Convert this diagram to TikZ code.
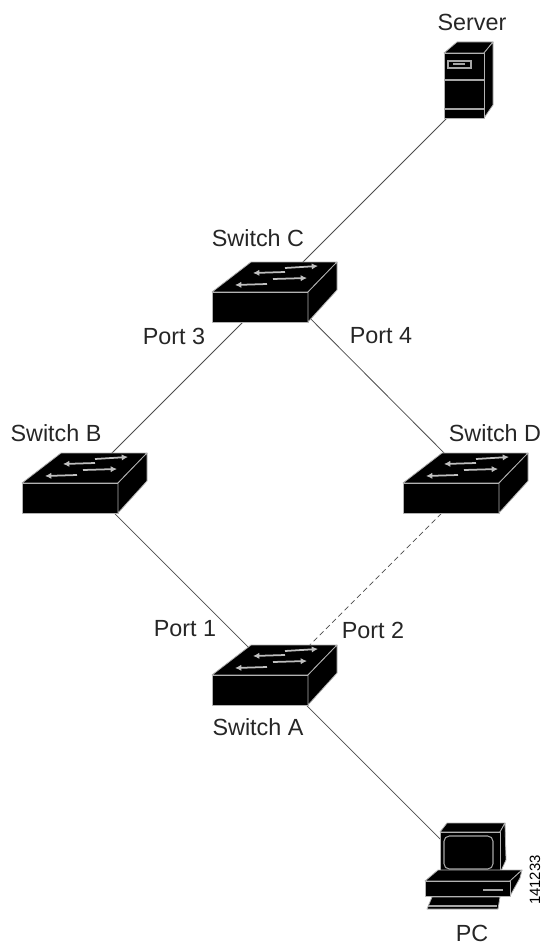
\documentclass[tikz,border=0pt]{standalone}
\usepackage{fontspec}
\setmainfont{Liberation Sans}
\usetikzlibrary{positioning,arrows.meta}

\tikzset{
  edge line/.style={draw=gray!60,line width=0.45pt,line join=round},
  detail line/.style={draw=gray!70,line width=0.6pt},
  arrow line/.style={draw=gray!50,line width=1pt,-{Latex[length=3.6pt,width=3.6pt]}},
  switch icon/.pic={
    \fill[black,edge line] (-63,0) -- (-24,-30) -- (62,-30) -- (33,0) -- cycle;
    \fill[black,edge line] (-63,0) rectangle (33,30);
    \fill[black,edge line] (33,0) -- (62,-30) -- (62,-2) -- (33,30) -- cycle;
    \draw[arrow line] (10,-24) -- (43,-26);
    \draw[arrow line] (10,-20) -- (-22,-19);
    \draw[arrow line] (-2,-13) -- (32,-14);
    \draw[arrow line] (-8,-8) -- (-40,-7);
  },
  server icon/.pic={
    \fill[black,edge line] (-26,-35) -- (-13,-46) -- (23,-46) -- (14,-35) -- cycle;
    \fill[black,edge line] (14,-35) -- (23,-46) -- (23,17) -- (14,30) -- cycle;
    \fill[black,edge line] (-26,-35) rectangle (14,30);
    \draw[detail line] (-26,-8) -- (14,-8) (-26,21) -- (14,21);
    \draw[detail line] (-22,-27) rectangle (1,-20);
    \draw[detail line] (-17,-24) -- (-5,-24);
  },
  pc icon/.pic={
    % monitor
    \fill[black,edge line] (-30,-38) -- (-23,-47) -- (35,-47) -- (30,-38) -- cycle;
    \fill[black,edge line] (30,-38) -- (35,-47) -- (36,-10) -- (30,3) -- cycle;
    \fill[black,edge line] (-30,-38) rectangle (30,3);
    \draw[detail line,rounded corners=3pt] (-26,-34) rectangle (23,-1);
    % base
    \fill[black,edge line] (-45,11) -- (-32,0) -- (52,0) -- (40,11) -- cycle;
    \fill[black,edge line] (40,11) -- (52,0) -- (50,8) -- (40,26) -- cycle;
    \fill[black,edge line] (-45,11) rectangle (40,26);
    \draw[gray!70,line width=1.2pt] (13,20) -- (33,20);
    % keyboard
    \fill[black,edge line] (-38,27) -- (-43,39) -- (28,39) -- (30,27) -- cycle;
    \draw[detail line] (-42,36) -- (27,36);
  }
}

\begin{document}
\begin{tikzpicture}[x=0.02cm,y=-0.02cm,on grid,node distance=1cm,
                    main node/.style={inner sep=0pt,minimum size=0pt},
                    link/.style={draw=black!70,line width=0.45pt},
                    name label/.style={font=\fontsize{13.3}{15}\selectfont,text=black!85,inner sep=0pt}]
  \useasboundingbox (0,0) rectangle (542,946);

  \node[main node] (SwC) at (278.5,286.5) {};
  \node[main node] (Server) [above right=3.83cm and 3.83cm of SwC] {};
  \node[main node] (SwB) [below left=3.91cm and 3.91cm of SwC] {};
  \node[main node] (SwD) [below right=3.91cm and 3.89cm of SwC] {};
  \node[main node] (SwA) [below right=3.9cm and 3.9cm of SwB] {};
  \node[main node] (PC) [below right=3.74cm and 3.74cm of SwA] {};

  \path[link]
    (Server) edge (SwC)
    (SwC) edge (SwB)
          edge (SwD)
    (SwB) edge (SwA)
    (SwA) edge (PC);
  \path[link,densely dashed] (SwD) edge (SwA);

  \pic at (470,88) {server icon};
  \pic at (275,292) {switch icon};
  \pic at (85,483) {switch icon};
  \pic at (466,483) {switch icon};
  \pic at (275,675) {switch icon};
  \pic at (470,870) {pc icon};

  \node[name label] (ServerLabel) at (472,22) {Server};
  \node[name label] (SwCLabel) at (258,238) {Switch C};
  \node[name label] (SwBLabel) at (56,433) {Switch B};
  \node[name label] (SwDLabel) at (495,433) {Switch D};
  \node[name label] (SwALabel) at (258,727) {Switch A};
  \node[name label] (PCLabel) at (472,933) {PC};

  \node[name label] (Port3) at (174,336) {Port 3};
  \node[name label] (Port4) at (381,336) {Port 4};
  \node[name label] (Port1) at (185,629) {Port 1};
  \node[name label] (Port2) at (373,630) {Port 2};

  \node[font=\fontsize{8.5}{10}\selectfont,rotate=90,inner sep=0pt] (PicNum) at (535,880) {141233};
\end{tikzpicture}
\end{document}
